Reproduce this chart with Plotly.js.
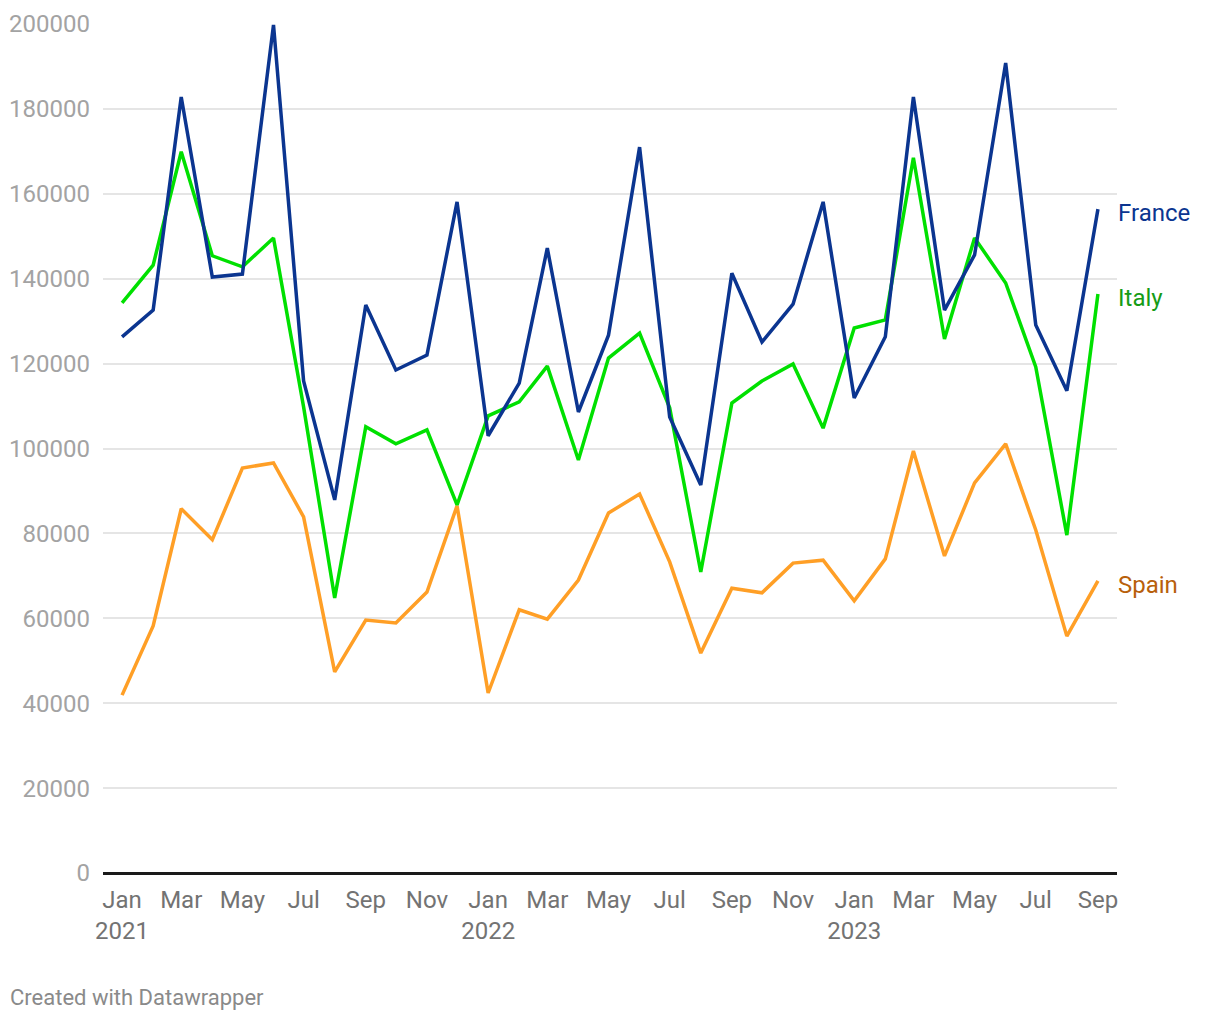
<!DOCTYPE html>
<html>
<head>
<meta charset="utf-8">
<script src="https://cdn.plot.ly/plotly-3.0.1.min.js"></script>
<style>
  html, body { margin: 0; padding: 0; background: #ffffff; }
  #chart { width: 1220px; height: 1020px; }
</style>
</head>
<body>
<div id="chart"></div>
<script>
const months = [
  "2021-01-01","2021-02-01","2021-03-01","2021-04-01","2021-05-01","2021-06-01",
  "2021-07-01","2021-08-01","2021-09-01","2021-10-01","2021-11-01","2021-12-01",
  "2022-01-01","2022-02-01","2022-03-01","2022-04-01","2022-05-01","2022-06-01",
  "2022-07-01","2022-08-01","2022-09-01","2022-10-01","2022-11-01","2022-12-01",
  "2023-01-01","2023-02-01","2023-03-01","2023-04-01","2023-05-01","2023-06-01",
  "2023-07-01","2023-08-01","2023-09-01"
];

const france = [
  126300, 132600, 182800, 140400, 141100, 199800, 115900, 87900, 133800, 118500, 122000, 158100,
  103000, 115400, 147200, 108600, 126700, 171000, 107400, 91400, 141300, 125100, 134000, 158100,
  111900, 126300, 182800, 132600, 145600, 190800, 129100, 113600, 156400
];

const italy = [
  134300, 143200, 169900, 145400, 142800, 149600, 109800, 64800, 105100, 101100, 104400, 86700,
  107700, 111000, 119400, 97300, 121300, 127200, 109600, 70900, 110700, 115900, 119900, 104800,
  128400, 130300, 168500, 125800, 149600, 139000, 119200, 79600, 136400
];

const spain = [
  41900, 58200, 85800, 78500, 95400, 96600, 83900, 47400, 59600, 58900, 66200, 86500,
  42400, 62000, 59800, 69000, 84800, 89300, 73300, 51800, 67100, 66000, 73000, 73700,
  64100, 74000, 99400, 74700, 91900, 101100, 80800, 55800, 68800
];

const seriesNames = ["France", "Italy", "Spain"];
const tickDates = [
  "2021-01-01","2021-03-01","2021-05-01","2021-07-01","2021-09-01","2021-11-01",
  "2022-01-01","2022-03-01","2022-05-01","2022-07-01","2022-09-01","2022-11-01",
  "2023-01-01","2023-03-01","2023-05-01","2023-07-01","2023-09-01"
];
const tickLabels = [
  "Jan<br>2021","Mar","May","Jul","Sep","Nov",
  "Jan<br>2022","Mar","May","Jul","Sep","Nov",
  "Jan<br>2023","Mar","May","Jul","Sep"
];
const yTicks = [0, 20000, 40000, 60000, 80000, 100000, 120000, 140000, 160000, 180000, 200000];

const lineColors = ["#0b3590", "#00e000", "#ff9f26"];
const labelColors = ["#0b3590", "#169c16", "#b8600b"];
const seriesData = [france, italy, spain];

const traces = seriesData.map((vals, i) => ({
  type: "scatter",
  mode: "lines",
  x: months,
  y: vals,
  name: seriesNames[i],
  line: { color: lineColors[i], width: 3.5, shape: "linear" },
  cliponaxis: false,
  hoverinfo: "x+y+name"
}));

// draw order: Spain, Italy, France on top
const ordered = [traces[2], traces[1], traces[0]];

const annotations = seriesData.map((vals, i) => ({
  x: months[months.length - 1],
  y: vals[vals.length - 1],
  xref: "x", yref: "y",
  text: seriesNames[i],
  showarrow: false,
  xanchor: "left",
  yanchor: "middle",
  xshift: 18,
  yshift: -4,
  font: { family: "Roboto, sans-serif", size: 24, color: labelColors[i] }
}));

annotations.push({
  x: 0, y: 0,
  xref: "paper", yref: "paper",
  xanchor: "left", yanchor: "middle",
  xshift: -95, yshift: -124,
  text: "Created with Datawrapper",
  showarrow: false,
  font: { family: "Roboto, sans-serif", size: 22, color: "#8a8a8a" }
});

const layout = {
  width: 1220,
  height: 1020,
  margin: { l: 103, r: 103, t: 24, b: 147 },
  paper_bgcolor: "#ffffff",
  plot_bgcolor: "#ffffff",
  showlegend: false,
  xaxis: {
    type: "date",
    range: ["2020-12-13", "2023-09-20"],
    tickmode: "array",
    tickvals: tickDates,
    ticktext: tickLabels,
    showgrid: false,
    zeroline: false,
    showline: false,
    ticks: "",
    ticklabelstandoff: 10,
    tickfont: { family: "Roboto, sans-serif", size: 24, color: "#737373" },
    fixedrange: true
  },
  yaxis: {
    range: [0, 200000],
    tickmode: "array",
    tickvals: yTicks,
    ticktext: yTicks.map(v => String(v)),
    showgrid: true,
    gridcolor: "#e5e5e5",
    gridwidth: 2,
    zeroline: true,
    zerolinecolor: "#1a1a1a",
    zerolinewidth: 3,
    showline: false,
    ticks: "",
    ticklabelstandoff: 12,
    tickfont: { family: "Roboto, sans-serif", size: 24, color: "#a3a3a3" },
    fixedrange: true
  },
  annotations: annotations
};

Plotly.newPlot("chart", ordered, layout, { displayModeBar: false, staticPlot: true });
</script>
</body>
</html>
